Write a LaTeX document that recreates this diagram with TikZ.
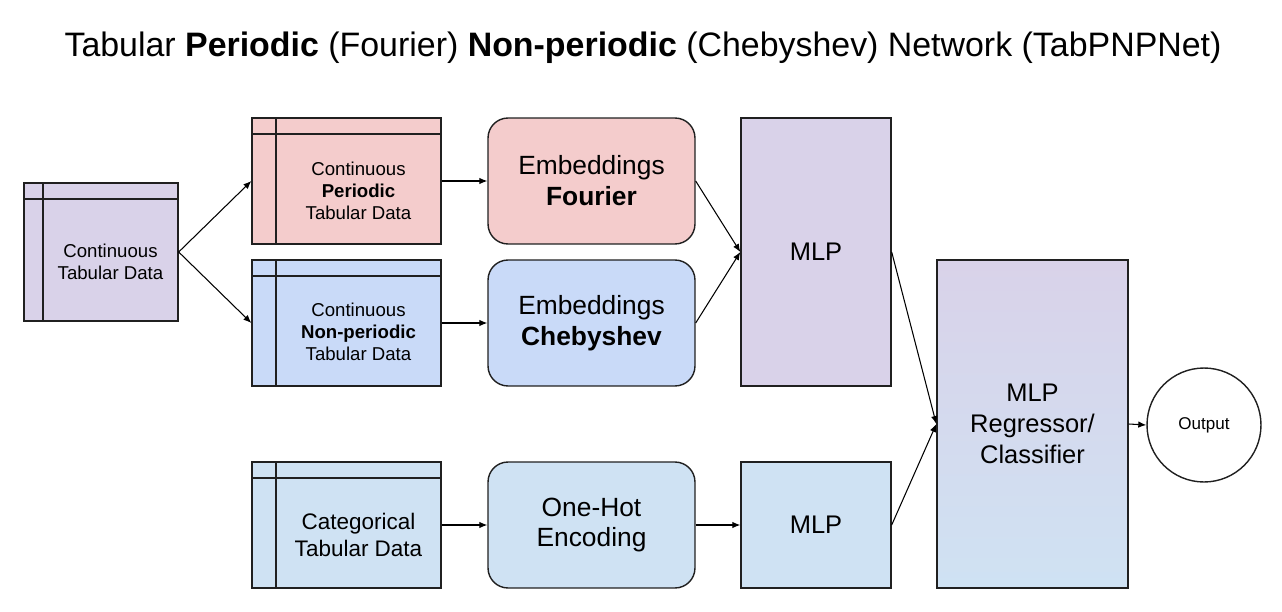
\documentclass[tikz,border=0pt]{standalone}
\usepackage{fontspec}
\setmainfont{Liberation Sans}
\usetikzlibrary{arrows.meta}
\definecolor{pinkbox}{HTML}{F4CCCC}
\definecolor{bluebox}{HTML}{C9DAF8}
\definecolor{lilacbox}{HTML}{D9D2E9}
\definecolor{skybox}{HTML}{CFE2F3}
\definecolor{edge}{HTML}{202020}
\def\fsz#1#2{\fontsize{#1}{#2}\selectfont}

\begin{document}
\begin{tikzpicture}[x=0.02cm, y=-0.02cm,
  frame/.style={draw=edge, line width=0.8pt},
  tabbox/.style 2 args={frame, fill=#1, minimum width=3.78cm, minimum height=2.52cm, inner sep=0pt,
    path picture={
      \draw[edge, line width=0.8pt] ([xshift=#2]path picture bounding box.north west) -- ([xshift=#2]path picture bounding box.south west);
      \draw[edge, line width=0.8pt] ([yshift=-0.32cm]path picture bounding box.north west) -- ([yshift=-0.32cm]path picture bounding box.north east);}},
  tabtext/.style={align=center, inner sep=0pt, font=\fsz{10.6}{12.5}},
  embbox/.style={frame, fill=#1, rounded corners=0.4cm, minimum width=4.14cm, minimum height=2.52cm, align=center, font=\fsz{15}{17.6}},
  mlpbox/.style={frame, fill=#1, minimum width=3cm, align=center, font=\fsz{14.5}{17.6}},
  arr/.style={-{Latex[length=1.6mm, width=1.3mm]}, line width=0.6pt}]
\useasboundingbox (0,0) rectangle (1282,612);
\node[font=\fsz{19.3}{23}] (title) at (643,48) {Tabular \textbf{Periodic} (Fourier) \textbf{Non-periodic} (Chebyshev) Network (TabPNPNet)};

\node[tabbox={lilacbox}{0.38cm}, minimum width=3.08cm, minimum height=2.76cm] (in) at (101,252) {};
\node[tabtext] (in-txt) at (110.5,262) {Continuous\\Tabular Data};
\node[tabbox={pinkbox}{0.48cm}] (per) at (346.5,181) {};
\node[tabtext] (per-txt) at (358.5,191) {Continuous\\\textbf{Periodic}\\Tabular Data};
\node[tabbox={bluebox}{0.48cm}] (nonper) at (346.5,323) {};
\node[tabtext] (nonper-txt) at (358.5,332) {Continuous\\\textbf{Non-periodic}\\Tabular Data};
\node[tabbox={skybox}{0.48cm}] (cat) at (346.5,525) {};
\node[tabtext, font=\fsz{12.8}{15.2}] (cat-txt) at (358.5,535) {Categorical\\Tabular Data};

\node[embbox=pinkbox] (four) at (591.5,181) {Embeddings\\\textbf{Fourier}};
\node[embbox=bluebox] (cheb) at (591.5,323) {Embeddings\\\textbf{Chebyshev}};
\node[embbox=skybox] (onehot) at (591.5,525) {One-Hot\\Encoding};

\node[mlpbox=lilacbox, minimum height=5.36cm] (mlpc) at (816,252) {MLP};
\node[mlpbox=skybox, minimum height=2.52cm] (mlpd) at (816,525) {MLP};
\node[frame, top color=lilacbox, bottom color=skybox, minimum width=3.82cm, minimum height=6.56cm, align=center, font=\fsz{14.5}{17.6}] (reg) at (1032.5,424) {MLP\\Regressor/\\Classifier};
\node[frame, circle, fill=white, minimum size=2.28cm, font=\fsz{9.7}{11}] (out) at (1204,425) {Output};

\draw[arr] (in.east) -- (per.west);
\draw[arr] (in.east) -- (nonper.west);
\draw[arr] (per.east) -- (four.west);
\draw[arr] (nonper.east) -- (cheb.west);
\draw[arr] (cat.east) -- (onehot.west);
\draw[arr] (four.east) -- (mlpc.west);
\draw[arr] (cheb.east) -- (mlpc.west);
\draw[arr] (onehot.east) -- (mlpd.west);
\draw[arr] (mlpc.east) -- (reg.west);
\draw[arr] (mlpd.east) -- (reg.west);
\draw[arr] (reg.east) -- (out.west);
\end{tikzpicture}
\end{document}
